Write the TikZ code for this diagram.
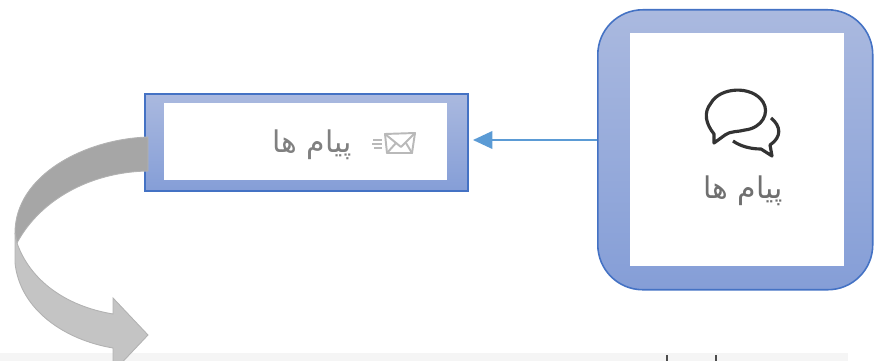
\documentclass[tikz,border=0pt]{standalone}
\usepackage{fontspec}
\newfontfamily\arabicfont[Script=Arabic]{DejaVu Sans}
\TeXXeTstate=1
\usetikzlibrary{positioning,arrows.meta}
\definecolor{boxtop}{HTML}{AAB9DF}
\definecolor{boxbot}{HTML}{859ED7}
\definecolor{boxline}{HTML}{4472C4}
\definecolor{linkblue}{HTML}{5B9BD5}
\definecolor{labelgray}{HTML}{707070}
\tikzset{
  framebox/.style={draw=boxline, line width=0.9pt, top color=boxtop, bottom color=boxbot},
  whitebox/.style={fill=white, draw=none, inner sep=0pt},
  farsi/.style={text=labelgray, inner sep=0pt, font=\arabicfont\fontsize{17}{17}\selectfont},
  icon/.style={line width=1.1pt, line join=round, line cap=round, gray!55},
  bubble/.style={black!80, line width=1.8pt, line join=round}
}
\begin{document}
\begin{tikzpicture}[x=0.02cm,y=-0.02cm]

\useasboundingbox (0,0) rectangle (874,361);
\clip (0,0) rectangle (874,361);

\fill[black!4] (0,353) rectangle (848,361);
\foreach \x in {667,716}
  \draw[black!70, line width=0.8pt] (\x,355) -- (\x,361);

% boxes
\node[framebox, rounded corners=0.9cm, minimum width=5.5cm, minimum height=5.6cm, anchor=north west, inner sep=0pt] (chatframe) at (597,9) {};
\node[whitebox, minimum width=4.28cm, minimum height=4.66cm, anchor=north west] (chatpanel) at (630,33) {};
\node[framebox, minimum width=6.46cm, minimum height=1.94cm, anchor=north west, inner sep=0pt] (menuframe) at (144,93) {};
\node[whitebox, minimum width=5.66cm, minimum height=1.54cm, anchor=north west] (menupanel) at (164,103) {};

% labels
\node[farsi] (chatlabel) at (743,191) {\beginR پیام ها\endR};
\node[farsi, text=gray] (menulabel) at (312,145) {\beginR پیام ها\endR};

\coordinate (arrowtip) at (473,140);
\draw[linkblue, line width=1pt, -{Triangle[length=11pt,width=10pt]}] (chatframe.west |- arrowtip) -- (arrowtip);

% speech bubbles
\draw[bubble] (714,134) .. controls (706,124) and (703,113) .. (711,103) .. controls (720,87) and (752,85) .. (763,102) .. controls (770,113) and (762,128) .. (745,130) .. controls (738,132) and (730,131) .. (725,135) -- (714,143) -- cycle;
\draw[bubble] (771,118) .. controls (781,126) and (782,137) .. (770,145) -- (772,156) -- (761,149) .. controls (750,149) and (740,146) .. (733,141);

% envelope
\draw[icon] (385,134) -- (415,133) -- (412,153) -- (387,153) -- cycle;
\draw[icon] (385,134) -- (401,147) -- (415,133);
\draw[icon] (387,153) -- (396,143);
\draw[icon] (412,153) -- (406,143);
\foreach \y/\xs in {140/373,144/372,148/374}
  \draw[gray!55, line width=0.8pt] (\xs,\y) -- (382,\y);

% curved arrow
\path[fill=black!35, draw=black!30, line width=0.5pt] (148,137) .. controls (85,139) and (15,175) .. (15,233) -- (17,243) .. controls (40,200) and (90,172) .. (148,171) -- cycle;
\path[fill=black!23, draw=black!30, line width=0.5pt] (15,233) -- (15,263) .. controls (20,310) and (65,340) .. (113,348) -- (113,372) -- (148,335) -- (113,298) -- (113,314) .. controls (65,306) and (30,280) .. (17,243) -- cycle;

\end{tikzpicture}
\end{document}
